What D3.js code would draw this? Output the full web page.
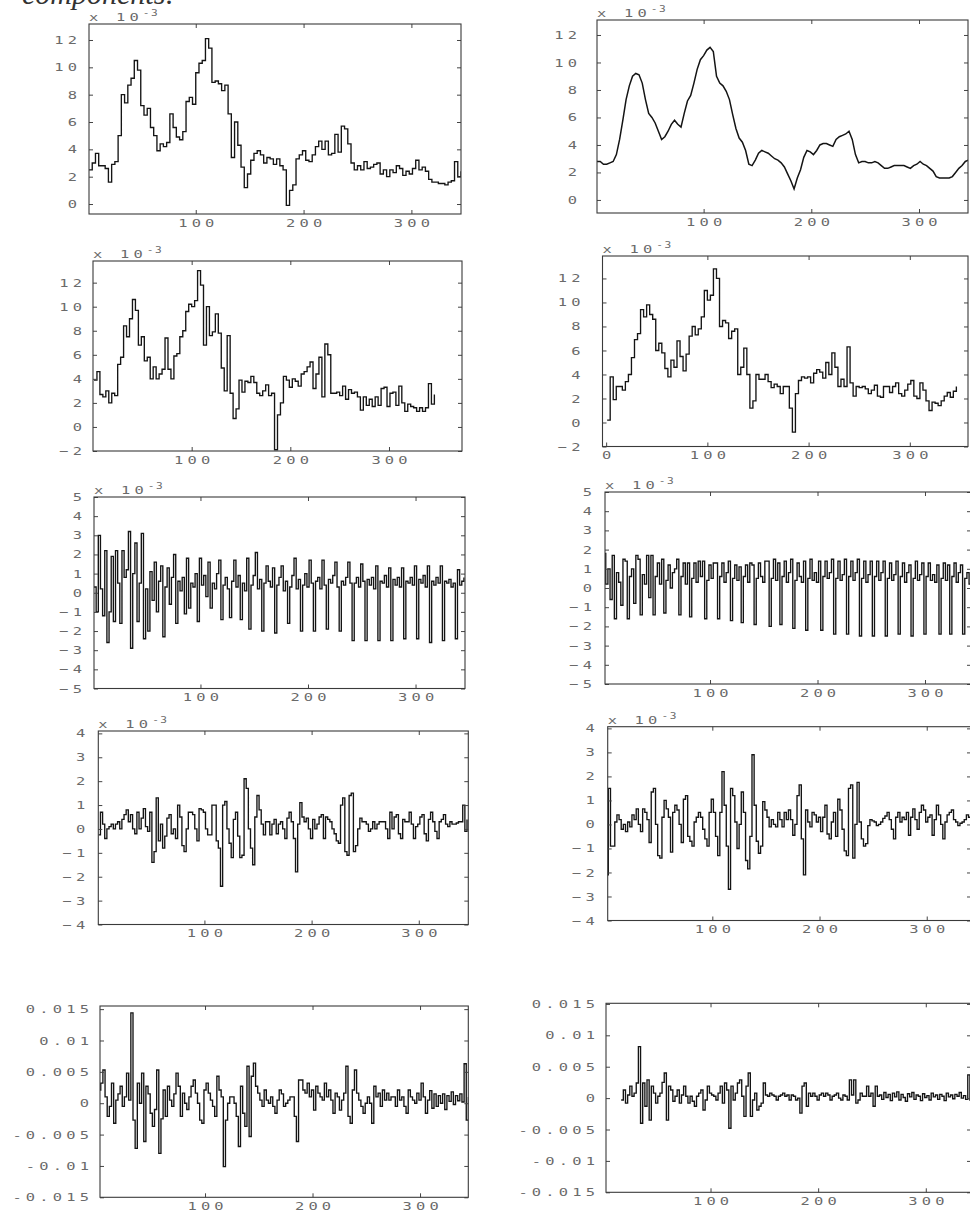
<!DOCTYPE html>
<html><head><meta charset="utf-8">
<script src="https://cdn.jsdelivr.net/npm/d3@7"></script>
<style>
html,body{margin:0;padding:0;background:#fff;}
svg{display:block;}
.tick text{font-family:"DejaVu Sans Mono",monospace;font-size:11px;fill:#6a6a6a;letter-spacing:3px;}
.tick line{stroke:#444;stroke-width:1;}
.exp{font-family:"DejaVu Sans Mono",monospace;fill:#6a6a6a;}
</style></head><body>
<svg id="chart" width="970" height="1212"></svg>
<script>
// ---------- data (values in units of 1e-3) ----------
const xTicks = [100, 200, 300];
const xTicksZero = [0, 100, 200, 300];
const yTicksLevel = [0, 2, 4, 6, 8, 10, 12];
const yTicksLevelNeg = [-2, 0, 2, 4, 6, 8, 10, 12];
const yTicksSeasonal = [-5, -4, -3, -2, -1, 0, 1, 2, 3, 4, 5];
const yTicksCycle = [-4, -3, -2, -1, 0, 1, 2, 3, 4];
const yTicksIrregular = [-15, -10, -5, 0, 5, 10, 15];
const irregularLabels = ["-0.015", "-0.01", "-0.005", "0", "0.005", "0.01", "0.015"];

// row 1 left (x = 1, 4, 7, ...)
const levelLeft = [2.5,3.0,3.7,2.8,2.8,2.6,1.6,2.9,3.1,5.0,8.0,7.4,8.7,9.2,10.5,9.8,7.2,6.5,7.0,5.6,5.0,3.9,4.4,4.2,4.5,6.6,5.6,4.9,4.7,5.3,7.5,7.8,7.3,9.6,10.3,10.5,12.1,11.4,8.9,9.0,8.8,8.3,8.7,6.6,3.4,6.0,4.3,2.7,1.2,2.2,3.2,3.7,3.9,3.6,3.0,3.4,3.3,2.9,3.3,2.8,2.5,-0.1,1.0,1.4,3.3,3.6,3.9,3.2,3.1,3.6,4.2,4.6,4.0,4.6,3.6,3.7,5.1,3.8,5.7,5.5,4.4,3.0,2.5,2.8,2.5,3.1,2.6,2.7,2.9,3.0,2.2,2.5,2.0,2.5,2.3,2.8,2.6,2.1,2.4,2.2,2.6,3.2,2.5,2.7,2.4,1.8,1.6,1.6,1.5,1.5,1.4,1.6,1.7,3.1,2.0,2.4];
// row 1 right (x = 1, 4, 7, ...)
const levelRight = [2.8,2.8,2.6,2.6,2.7,2.8,3.3,4.4,5.8,7.3,8.3,9.0,9.2,9.1,8.5,7.3,6.3,6.0,5.6,5.0,4.4,4.6,5.0,5.5,5.8,5.5,5.3,6.3,7.2,7.6,8.5,9.5,10.2,10.5,10.9,11.1,10.8,9.0,8.5,8.3,7.9,7.3,6.2,5.2,4.5,4.2,3.6,2.6,2.5,2.9,3.4,3.6,3.5,3.4,3.2,3.0,2.9,2.7,2.4,1.9,1.4,0.8,1.6,2.2,3.1,3.6,3.5,3.3,3.6,4.0,4.1,4.1,4.0,3.9,4.4,4.6,4.7,4.8,5.0,4.4,3.3,2.7,2.8,2.8,2.7,2.7,2.8,2.7,2.5,2.3,2.3,2.4,2.5,2.5,2.5,2.5,2.4,2.3,2.5,2.6,2.8,2.6,2.5,2.3,2.1,1.7,1.6,1.6,1.6,1.6,1.7,2.0,2.3,2.5,2.8,2.9];
// row 2 left (x = 1, 4, 7, ...)
const seriesLeft = [3.9,4.6,2.7,2.5,3.0,2.0,2.8,2.6,5.2,5.8,8.4,7.5,9.0,10.6,9.7,6.8,7.5,5.5,5.8,4.0,5.0,4.0,4.4,4.8,7.4,4.8,4.0,5.9,6.1,7.5,8.0,9.6,10.2,10.0,10.5,13.0,11.8,6.8,10.0,7.6,7.9,9.4,7.8,4.9,3.0,7.6,2.8,0.7,1.5,3.9,2.9,3.8,3.7,4.2,3.7,2.8,2.6,3.0,3.5,2.6,2.8,-1.9,1.0,2.0,4.2,3.9,3.3,4.0,3.8,3.4,4.4,4.6,5.0,5.4,3.2,4.4,5.8,2.5,6.9,6.0,2.8,2.8,2.9,2.6,3.4,2.3,3.1,2.8,2.9,2.5,1.4,2.5,1.8,2.3,1.7,2.5,1.8,3.2,3.3,1.7,2.8,2.9,1.8,3.4,2.0,1.3,1.9,1.7,1.6,1.3,1.6,1.3,1.6,3.6,1.9,2.7];
// row 2 right (x = 1, 4, 7, ...)
const seriesRight = [0.2,3.8,1.9,3.0,3.0,2.7,3.4,4.0,5.4,6.9,7.4,9.4,8.8,9.8,9.0,8.6,6.0,6.6,5.8,4.5,3.8,5.2,4.6,6.8,5.5,4.3,5.7,7.2,8.0,7.3,7.8,8.8,11.0,10.2,10.6,12.8,12.0,8.0,8.5,8.3,7.0,7.6,7.8,4.0,4.6,6.2,4.0,1.2,1.8,4.0,3.6,3.6,4.0,3.4,2.9,3.2,3.0,2.4,3.0,3.0,1.2,-0.8,2.4,3.5,3.8,3.7,3.8,3.3,4.1,4.4,4.2,3.7,5.0,4.0,5.8,4.6,3.0,3.6,3.0,6.3,3.3,2.2,3.0,2.9,3.0,2.8,2.4,2.7,3.1,2.2,2.1,3.0,3.0,2.5,3.0,3.3,2.4,2.2,2.7,3.2,3.5,2.2,2.0,3.3,2.7,1.8,1.0,1.7,1.6,1.4,1.8,2.2,2.5,2.1,2.6,3.0];
// row 3 left (x = 1, 3, 5, ...)
const seasonalLeft = [0.3,-1.0,3.0,0.2,-1.2,2.2,-2.6,-1.0,1.9,-1.5,2.2,0.5,-1.6,2.2,0.8,1.2,3.2,-2.9,1.0,2.6,-1.5,0.5,3.1,-2.4,0.2,-2.0,1.1,-0.4,1.6,-1.0,0.6,1.4,-2.3,0.3,1.3,-0.6,0.8,2.0,-1.6,0.6,0.1,0.8,-1.1,1.8,-0.8,0.5,0.3,1.0,-1.5,1.8,0.4,0.9,-0.2,1.6,-0.8,0.5,0.2,1.0,1.7,-1.4,0.4,0.8,0.2,-1.3,0.6,1.7,0.3,0.9,-1.4,0.5,0.1,1.8,-1.9,0.4,0.9,2.1,0.2,0.7,-2.0,0.5,1.4,0.6,0.3,1.3,-2.1,0.4,0.8,1.4,0.1,0.6,-1.6,0.3,0.9,1.8,0.2,0.7,-2.0,0.4,1.0,0.3,1.7,0.5,-2.0,0.6,0.8,0.2,1.7,0.4,-1.9,0.7,0.5,0.9,1.6,0.3,-2.0,0.6,0.4,0.8,1.6,0.5,-2.5,0.5,0.8,0.3,1.5,0.6,-2.5,0.7,0.4,0.8,0.2,1.4,-2.5,0.6,0.5,0.9,0.3,1.3,-2.5,0.7,0.4,0.8,0.3,1.3,-2.4,0.6,0.5,0.8,0.4,1.4,-2.4,0.7,0.5,0.9,0.3,1.4,-2.6,0.6,0.4,0.8,0.5,1.4,-2.5,0.6,0.5,0.7,0.3,0.5,-2.4,1.2,0.4,0.6,0.8];
// row 3 right (x = 1, 3, 5, ...)
const seasonalRight = [1.8,0.2,1.0,-0.6,1.7,-1.6,0.8,0.3,-0.9,1.5,1.4,-1.6,0.6,1.0,-0.8,1.7,1.5,-1.4,0.7,0.2,1.7,-0.5,1.7,-1.4,0.6,1.3,0.2,1.5,-1.3,0.4,1.2,0.0,0.8,1.0,1.5,-1.4,0.6,1.3,0.2,1.3,-1.5,0.5,1.3,0.3,1.4,0.6,1.4,-1.6,0.4,1.2,0.5,1.3,1.3,-1.6,0.6,1.3,0.3,0.8,1.4,-1.7,0.5,1.2,0.4,1.1,-1.8,0.6,1.2,0.3,1.3,1.2,-1.9,0.5,1.3,0.6,0.3,1.4,1.4,-2.0,0.5,1.5,0.4,1.3,-1.9,0.6,1.4,0.3,0.8,1.5,-2.1,0.4,1.3,0.6,0.3,1.4,-2.2,0.5,1.5,0.4,0.8,0.3,1.4,-2.2,0.6,1.4,0.5,0.8,1.5,-2.4,0.5,1.4,0.4,0.7,1.5,-2.4,0.6,1.4,0.4,0.8,1.5,-2.5,0.5,1.4,0.3,0.7,1.4,-2.5,0.6,1.4,0.4,0.8,1.4,-2.5,0.5,1.3,0.4,0.7,1.4,-2.4,0.6,1.3,0.3,0.8,1.2,-2.5,0.5,1.4,0.4,0.7,1.3,-2.4,0.6,1.3,0.4,0.7,0.3,1.2,-2.4,0.5,1.3,0.4,1.2,-2.4,0.6,1.3,0.3,0.8,1.2,-2.4,0.5,0.8,0.2,1.3,0.6];
// row 4 left (x = 1, 3, 5, ...)
const cycleLeft = [-0.25,0.7,0.2,-0.4,0.0,0.1,0.2,0.0,0.2,0.3,0.0,0.4,0.6,0.8,0.3,0.6,0.0,-0.2,0.7,0.0,0.45,0.85,0.1,-0.1,0.7,-1.4,-0.95,1.3,-0.5,0.2,-0.8,-0.3,0.45,0.6,-0.2,0.0,-0.4,1.0,0.5,-0.7,-0.95,0.0,0.7,0.7,0.6,0.0,-0.5,0.85,0.8,0.7,0.0,-0.25,-0.25,1.0,1.0,-0.5,-0.8,-2.4,1.0,1.15,0.0,-0.6,-1.2,0.4,0.7,-0.3,-1.2,-1.1,2.1,1.7,0.0,-0.8,-1.5,0.5,1.4,0.8,0.2,-0.25,0.3,0.3,-0.25,0.2,0.4,-0.2,0.2,0.3,0.0,-0.4,0.45,0.7,0.3,-0.4,-1.8,0.2,1.1,0.5,0.3,0.45,0.0,-0.4,0.4,0.0,0.2,0.5,0.6,-0.4,0.5,0.4,0.3,0.0,-0.2,-0.5,-0.6,1.0,1.3,-0.95,-1.1,1.4,1.5,-0.95,-0.7,0.0,0.45,0.3,0.3,0.2,-0.1,0.0,0.3,0.0,0.2,0.3,0.3,0.3,0.0,-0.4,0.7,0.0,0.5,0.6,-0.2,-0.4,0.4,0.3,0.3,0.7,0.2,-0.4,0.1,0.2,0.5,0.6,-0.2,-0.5,0.4,0.7,0.3,-0.1,-0.4,0.3,0.4,0.6,0.2,0.1,0.3,0.2,0.2,0.25,0.3,0.3,1.0,-0.1,0.4];
// row 4 right (x = 1, 3, 5, ...)
const cycleRight = [-2.1,1.5,-0.9,-0.9,0.1,0.4,0.2,-0.2,0.0,-0.3,0.1,-0.1,0.4,0.2,0.65,0.0,-0.3,0.65,0.5,0.2,-0.75,1.35,1.5,0.0,-1.3,-1.4,0.3,1.0,0.65,0.3,-1.15,0.5,0.8,0.6,0.0,-0.75,1.05,1.2,-0.5,-0.7,-0.9,0.1,0.3,0.5,0.3,-0.2,-0.6,-0.9,0.5,1.05,0.5,-0.5,-1.3,0.5,2.2,0.8,-0.9,-2.7,1.5,1.2,0.1,-1.0,0.0,1.35,0.5,-1.5,-1.85,-0.5,2.9,0.8,-0.7,-1.2,-0.9,0.95,0.6,0.3,-0.1,0.2,0.0,-0.1,0.5,0.2,-0.1,0.5,0.2,0.6,0.2,-0.45,0.0,1.2,1.65,-0.6,-2.1,0.6,0.1,-0.1,0.5,0.4,0.1,0.3,-0.3,0.3,0.8,-0.4,-0.6,0.1,0.5,-0.5,1.05,0.6,-0.2,-1.1,-1.3,1.5,1.65,-1.4,0.0,1.75,0.1,-0.6,-0.9,-0.8,-0.05,0.2,0.15,0.1,-0.05,0.0,0.1,0.25,0.35,0.5,0.2,-0.2,-0.6,0.3,0.5,0.1,0.3,0.2,0.5,-0.45,0.3,0.65,0.2,-0.2,0.5,0.8,0.6,0.1,0.3,0.4,-0.45,0.2,0.8,0.4,0.0,-0.6,0.1,0.4,0.5,0.6,0.2,0.1,-0.05,0.05,0.1,0.2,0.4,0.3,0.5,0.2,0.4];
// row 5 left (x = 1, 3, 5, ...)
const irregularLeft = [2.1,3.2,5.3,1.0,-2.1,-0.5,3.2,-3.2,0.5,1.5,2.7,-0.5,1.0,4.8,0.5,14.4,-2.7,-7.2,3.2,0.0,4.8,-6.1,2.7,1.5,-1.6,-3.7,-1.0,5.3,-8.0,-2.5,2.1,-2.1,2.7,0.5,-0.5,1.5,4.8,2.7,-2.1,1.6,0.0,-1.0,1.0,2.7,3.7,1.6,0.0,-2.7,-3.2,2.1,3.2,1.6,0.5,-0.5,-2.1,4.3,2.1,1.0,-10.1,-2.7,0.0,1.0,1.0,0.0,-2.1,-6.9,2.7,-1.6,-3.7,5.9,-5.3,4.3,6.4,2.7,1.6,0.5,-0.5,2.1,0.5,0.0,1.0,-0.5,-1.6,0.5,2.1,1.5,-0.5,0.0,0.5,1.0,1.0,-2.1,-6.1,3.7,3.7,2.1,1.6,3.2,1.0,2.1,-1.1,2.7,1.6,1.0,0.5,3.2,1.0,2.1,0.5,-1.6,1.6,1.0,-1.1,0.5,1.6,5.9,-2.1,-3.2,2.1,5.3,1.6,0.5,-0.5,-1.6,0.0,1.0,0.0,-3.2,2.7,1.0,1.6,-0.5,2.1,0.5,1.6,0.5,1.0,1.0,-0.5,2.1,0.5,1.0,-0.5,-1.6,2.1,1.0,0.5,0.0,1.6,0.5,3.2,1.0,-1.6,0.5,2.0,-0.8,1.5,-0.5,1.2,0.0,1.5,-1.0,1.2,0.3,1.8,-0.2,1.2,0.4,1.5,0.2,6.3,-2.7,1.0];
// row 5 right (x = 17, 19, 21, ...)
const irregularRight = [-0.3,1.3,-0.8,0.5,1.9,0.3,0.8,2.4,8.2,-4.0,2.4,-1.3,2.9,-3.5,1.9,0.8,-0.8,0.3,0.8,2.5,4.0,-3.5,1.9,1.3,-0.5,0.3,1.3,-0.8,0.5,1.9,0.3,-0.8,0.3,-0.5,-1.3,0.3,0.8,1.3,-1.9,-0.3,1.9,0.8,0.5,0.3,-0.3,0.8,1.9,-0.8,2.4,1.3,-4.8,1.9,-0.3,0.8,2.4,2.9,0.3,-2.9,1.9,4.0,-2.9,-0.3,0.8,-1.9,-1.3,-0.8,2.4,0.5,0.3,0.8,0.5,0.3,-0.3,0.3,0.5,0.8,0.3,0.5,-0.3,0.5,0.3,-0.3,0.0,-2.4,1.9,2.4,-1.3,0.8,0.3,0.8,0.3,-0.3,0.5,0.8,0.3,0.8,0.5,-0.3,0.3,0.5,0.8,0.0,-0.3,0.5,0.3,-0.3,2.9,0.5,2.9,-0.8,-0.3,0.8,0.3,0.3,1.9,0.3,0.8,-1.3,1.9,0.3,0.5,-0.2,0.9,0.1,0.6,-0.4,0.8,0.2,1.0,-0.3,0.6,0.1,-0.5,0.7,0.2,0.9,-0.2,0.5,0.3,-0.4,0.7,0.1,0.4,-0.3,0.8,0.2,0.5,-0.2,0.6,0.3,-0.4,0.8,0.2,0.5,-0.1,0.6,0.3,0.9,0.0,0.4,-0.2,3.7,-0.3,0.5,0.3];

// ---------- layout ----------
const panels = [
  {values: levelLeft,     x0: 1,  step: 3, smooth: false, L: 89,    T: 24,    R: 461,   B: 214,    xd: [1, 346],      yd: [-0.73, 13.17], yt: yTicksLevel,    xt: xTicks,     gap: 12, exp: true},
  {values: levelRight,    x0: 1,  step: 3, smooth: true,  L: 597,   T: 20,    R: 968,   B: 213,    xd: [1, 345.5],    yd: [-0.95, 13.09], yt: yTicksLevel,    xt: xTicks,     gap: 20, exp: true},
  {values: seriesLeft,    x0: 1,  step: 3, smooth: false, L: 93,    T: 261,   R: 462,   B: 451,    xd: [0, 374],      yd: [-2, 13.8],     yt: yTicksLevelNeg, xt: xTicks,     gap: 11, exp: true},
  {values: seriesRight,   x0: 1,  step: 3, smooth: false, L: 602.5, T: 256,   R: 968,   B: 446.5,  xd: [-3.6, 357.5], yd: [-2, 13.87],    yt: yTicksLevelNeg, xt: xTicksZero, gap: 22, exp: true},
  {values: seasonalLeft,  x0: 1,  step: 2, smooth: false, L: 94,    T: 497,   R: 465,   B: 688.5,  xd: [1, 346],      yd: [-5, 5],        yt: yTicksSeasonal, xt: xTicks,     gap: 12, exp: true},
  {values: seasonalRight, x0: 1,  step: 2, smooth: false, L: 605,   T: 492,   R: 971,   B: 684,    xd: [2.3, 342.8],  yd: [-5, 5],        yt: yTicksSeasonal, xt: xTicks,     gap: 13, exp: true},
  {values: cycleLeft,     x0: 1,  step: 2, smooth: false, L: 98.3,  T: 731,   R: 468.3, B: 924.5,  xd: [1, 346.2],    yd: [-4, 4.1],      yt: yTicksCycle,    xt: xTicks,     gap: 13, exp: true},
  {values: cycleRight,    x0: 1,  step: 2, smooth: false, L: 607.7, T: 726.7, R: 971,   B: 920.5,  xd: [2.4, 341.3],  yd: [-4, 4.07],     yt: yTicksCycle,    xt: xTicks,     gap: 13, exp: true},
  {values: irregularLeft, x0: 1,  step: 2, smooth: false, L: 100,   T: 1006,  R: 468.3, B: 1197.3, xd: [2.3, 344.9],  yd: [-15, 15.5],    yt: yTicksIrregular, xt: xTicks,    gap: 11, exp: false},
  {values: irregularRight,x0: 17, step: 2, smooth: false, L: 606,   T: 1003.3,R: 971,   B: 1192.3, xd: [2.9, 342],    yd: [-15, 15.1],    yt: yTicksIrregular, xt: xTicks,    gap: 11, exp: false}
];

const svg = d3.select("#chart");
const LS = 3;    // letter spacing of tick labels (before stretch)
const SX = 1.4;  // horizontal stretch of the scanned-looking tick font

function stretch(sel) {
  sel.selectAll(".tick text").each(function () {
    const t = d3.select(this);
    const xv = +(t.attr("x") || 0);
    t.attr("x", xv / SX).attr("transform", `scale(${SX},1)`);
  });
}

// heading (cut off at the top of the page)
svg.append("text")
  .attr("x", 22).attr("y", 4)
  .style("font-family", "'Liberation Serif', 'DejaVu Serif', serif")
  .style("font-style", "italic")
  .style("font-size", "30px")
  .style("fill", "#333")
  .text("components:");

panels.forEach((p, i) => {
  const x = d3.scaleLinear().domain(p.xd).range([p.L, p.R]);
  const y = d3.scaleLinear().domain(p.yd).range([p.B, p.T]);
  const g = svg.append("g");

  const clipId = "clip" + i;
  svg.append("clipPath").attr("id", clipId)
    .append("rect").attr("x", p.L).attr("y", p.T).attr("width", p.R - p.L).attr("height", p.B - p.T);

  const data = p.values.map((v, k) => ({x: p.x0 + k * p.step, v}));
  const line = d3.line()
    .curve(p.smooth ? d3.curveLinear : d3.curveStepAfter)
    .x(d => x(d.x)).y(d => y(d.v));
  g.append("path")
    .datum(data)
    .attr("clip-path", `url(#${clipId})`)
    .attr("fill", "none")
    .attr("stroke", "#141414")
    .attr("stroke-width", p.smooth ? 1.5 : 1.35)
    .attr("stroke-linejoin", "miter")
    .attr("d", line);

  const isIrr = p.yt === yTicksIrregular;
  const yFmt = isIrr ? (d => irregularLabels[yTicksIrregular.indexOf(d)]) : d3.format("d");

  // left axis (ticks inside, labels outside)
  g.append("g").attr("transform", `translate(${p.L},0)`)
    .call(d3.axisLeft(y).tickValues(p.yt).tickSize(-4).tickSizeOuter(0).tickPadding(p.gap - LS * SX).tickFormat(yFmt))
    .call(a => a.select(".domain").remove())
    .call(stretch);
  // right axis ticks
  g.append("g").attr("transform", `translate(${p.R},0)`)
    .call(d3.axisRight(y).tickValues(p.yt).tickSize(-4).tickSizeOuter(0).tickFormat(""))
    .call(a => a.select(".domain").remove());
  // bottom axis
  g.append("g").attr("transform", `translate(0,${p.B})`)
    .call(d3.axisBottom(x).tickValues(p.xt).tickSize(-4).tickSizeOuter(0).tickPadding(5).tickFormat(d3.format("d")))
    .call(a => a.select(".domain").remove())
    .call(a => a.selectAll(".tick text").attr("dx", LS / 2))
    .call(stretch);
  // top axis ticks
  g.append("g").attr("transform", `translate(0,${p.T})`)
    .call(d3.axisTop(x).tickValues(p.xt.filter(t => t > 0)).tickSize(-4).tickSizeOuter(0).tickFormat(""))
    .call(a => a.select(".domain").remove());

  // frame
  g.append("rect")
    .attr("x", p.L).attr("y", p.T).attr("width", p.R - p.L).attr("height", p.B - p.T)
    .attr("fill", "none").attr("stroke", "#3a3a3a").attr("stroke-width", 1.1);

  if (p.exp) {
    const t = g.append("text").attr("class", "exp")
      .attr("x", p.L / SX).attr("y", p.T - 2.5)
      .attr("transform", `scale(${SX},1)`)
      .style("font-size", "11px").style("letter-spacing", "3px");
    t.append("tspan").text("x 10");
    t.append("tspan").attr("dy", -5).style("font-size", "8px").style("letter-spacing", "1px").text("-3");
  }
});
</script>
</body></html>
